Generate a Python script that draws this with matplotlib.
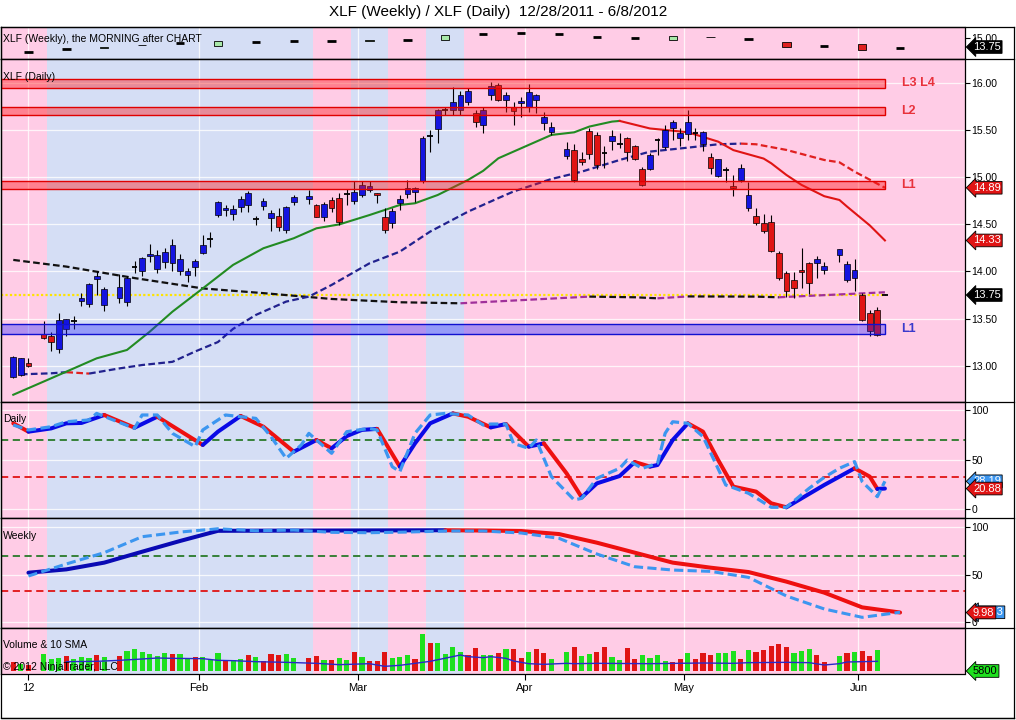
import numpy as np
import matplotlib
matplotlib.use('Agg')
import matplotlib.pyplot as plt
from matplotlib.patches import Rectangle
from matplotlib.lines import Line2D
from matplotlib.transforms import blended_transform_factory

plt.rcParams['font.family'] = ['Liberation Sans', 'DejaVu Sans']

# ---------------------------------------------------------------- data
# bar number = weekday index counted from Wed 2011-12-28 (market holidays leave gaps)
bars = [0, 1, 2, 4, 5, 6, 7, 8, 9, 10, 11, 12, 14, 15, 16, 17, 18, 19, 20, 21, 22, 23, 24, 25, 26,
        27, 28, 29, 30, 31, 32, 33, 34, 35, 36, 37, 39, 40, 41, 42, 43, 44, 45, 46, 47, 48, 49, 50,
        51, 52, 53, 54, 55, 56, 57, 58, 59, 60, 61, 62, 63, 64, 65, 66, 67, 68, 69, 70, 71, 73, 74,
        75, 76, 77, 78, 79, 80, 81, 82, 83, 84, 85, 86, 87, 88, 89, 90, 91, 92, 93, 94, 95, 96, 97,
        98, 99, 100, 101, 102, 103, 104, 105, 106, 107, 109, 110, 111, 112, 113, 114, 115]
opens = [12.88, 12.90, 13.03, 13.34, 13.31, 13.18, 13.39, 13.47, 13.69, 13.65, 13.92, 13.64, 13.72,
         13.68, 14.05, 14.00, 14.16, 14.03, 14.10, 14.09, 14.01, 13.96, 14.05, 14.20, 14.35, 14.60,
         14.65, 14.61, 14.69, 14.71, 14.56, 14.70, 14.57, 14.59, 14.44, 14.74, 14.77, 14.71, 14.58,
         14.76, 14.78, 14.82, 14.75, 14.81, 14.87, 14.83, 14.58, 14.51, 14.73, 14.82, 14.85, 14.96,
         15.44, 15.51, 15.72, 15.72, 15.72, 15.80, 15.68, 15.56, 15.88, 15.98, 15.82, 15.75, 15.79,
         15.75, 15.82, 15.58, 15.48, 15.23, 15.29, 15.20, 15.49, 15.45, 15.26, 15.39, 15.35, 15.42,
         15.33, 15.09, 15.09, 15.40, 15.32, 15.52, 15.42, 15.46, 15.47, 15.35, 15.22, 15.01, 15.08,
         14.91, 14.97, 14.67, 14.59, 14.51, 14.53, 14.20, 13.98, 13.91, 14.02, 14.09, 14.09, 14.02,
         14.17, 13.91, 13.93, 13.75, 13.56, 13.59, 13.75]
highs = [13.10, 13.08, 13.08, 13.47, 13.36, 13.56, 13.50, 13.53, 13.77, 13.88, 14.00, 13.83, 13.97,
         13.95, 14.11, 14.15, 14.29, 14.23, 14.25, 14.34, 14.19, 14.04, 14.13, 14.39, 14.42, 14.75,
         14.71, 14.71, 14.80, 14.86, 14.59, 14.78, 14.65, 14.67, 14.70, 14.81, 14.87, 14.72, 14.74,
         14.79, 14.83, 14.88, 14.96, 14.96, 14.96, 14.83, 14.67, 14.67, 14.81, 14.97, 14.90, 15.44,
         15.50, 15.73, 15.75, 15.96, 15.92, 15.95, 15.72, 15.75, 16.01, 16.00, 15.91, 15.80, 15.85,
         15.99, 15.89, 15.69, 15.59, 15.38, 15.36, 15.27, 15.52, 15.48, 15.33, 15.50, 15.47, 15.43,
         15.34, 15.11, 15.26, 15.42, 15.56, 15.61, 15.52, 15.72, 15.52, 15.49, 15.26, 15.20, 15.11,
         15.03, 15.14, 14.95, 14.67, 14.61, 14.60, 14.22, 14.00, 13.99, 14.25, 14.10, 14.16, 14.10,
         14.24, 14.11, 14.13, 13.77, 13.59, 13.62, 13.76]
lows = [12.87, 12.89, 12.98, 13.28, 13.15, 13.13, 13.31, 13.39, 13.63, 13.62, 13.75, 13.58, 13.66,
        13.63, 13.98, 13.95, 14.10, 13.98, 14.04, 14.00, 13.96, 13.89, 13.95, 14.19, 14.26, 14.58,
        14.59, 14.55, 14.63, 14.63, 14.49, 14.65, 14.43, 14.43, 14.41, 14.71, 14.72, 14.58, 14.54,
        14.63, 14.49, 14.71, 14.72, 14.79, 14.85, 14.73, 14.41, 14.46, 14.65, 14.78, 14.74, 14.94,
        15.27, 15.37, 15.66, 15.66, 15.66, 15.77, 15.54, 15.47, 15.82, 15.81, 15.69, 15.56, 15.64,
        15.69, 15.68, 15.50, 15.45, 15.20, 14.95, 15.13, 15.20, 15.09, 15.10, 15.29, 15.31, 15.17,
        15.19, 14.91, 15.08, 15.24, 15.30, 15.40, 15.33, 15.40, 15.40, 15.28, 15.04, 15.00, 14.95,
        14.80, 14.95, 14.64, 14.49, 14.41, 14.21, 13.91, 13.73, 13.72, 13.82, 13.76, 13.93, 13.97,
        14.10, 13.89, 13.79, 13.47, 13.31, 13.31, 13.75]
closes = [13.09, 13.08, 13.00, 13.29, 13.25, 13.48, 13.49, 13.47, 13.72, 13.87, 13.95, 13.81, 13.83,
          13.93, 14.05, 14.14, 14.19, 14.17, 14.21, 14.28, 14.13, 14.01, 14.11, 14.28, 14.35, 14.74,
          14.68, 14.66, 14.77, 14.83, 14.56, 14.75, 14.62, 14.47, 14.69, 14.79, 14.80, 14.58, 14.72,
          14.67, 14.53, 14.82, 14.84, 14.92, 14.91, 14.81, 14.44, 14.64, 14.77, 14.89, 14.89, 15.42,
          15.44, 15.72, 15.72, 15.80, 15.88, 15.92, 15.59, 15.72, 15.97, 15.82, 15.88, 15.71, 15.81,
          15.91, 15.88, 15.64, 15.54, 15.30, 14.97, 15.16, 15.25, 15.13, 15.26, 15.44, 15.35, 15.27,
          15.20, 14.92, 15.24, 15.40, 15.50, 15.59, 15.47, 15.59, 15.47, 15.48, 15.10, 15.20, 15.08,
          14.89, 15.10, 14.81, 14.51, 14.43, 14.22, 13.93, 13.79, 13.82, 13.99, 13.88, 14.13, 14.06,
          14.24, 14.08, 14.02, 13.48, 13.37, 13.33, 13.75]
# volume in millions of shares, 'G' = up bar, 'R' = down bar
volume = [27, 22, 17, 51, 35, 40, 45, 35, 42, 40, 48, 42, 45, 60, 66, 57, 51, 45, 54, 51, 51, 38, 42,
          42, 33, 54, 33, 33, 35, 48, 42, 30, 51, 48, 51, 39, 39, 45, 33, 33, 39, 33, 57, 42, 30, 30,
          57, 39, 42, 48, 36, 111, 84, 84, 51, 72, 57, 48, 69, 48, 48, 54, 66, 66, 39, 57, 66, 54, 36,
          57, 72, 45, 51, 57, 72, 42, 33, 69, 36, 48, 39, 48, 30, 27, 36, 54, 36, 54, 48, 54, 54, 60,
          36, 63, 57, 63, 75, 81, 72, 54, 60, 66, 48, 27, 45, 54, 57, 60, 45, 63, 0.0058]
vol_dir = ("RGRGGGRGGGRGRGGGGGGRGGRGGGRGGRGRRRGGRRGRGGRGRRRGGGRGRGGGGRRGGRGRRGRRG"
           "GRGGRRGGRRGGGGRRGRRRGGGRGRRRRRGGGRRGRGRRGG")

# 10 SMA of volume
vsma_bar = [7, 11, 14, 17, 19, 21, 25, 27, 29, 32, 36, 40, 43, 47, 49, 51, 53, 55, 59, 60, 62, 63,
            65, 66, 68, 70, 73, 74, 77, 84, 91, 95, 97, 102, 105, 107, 109, 110, 114]
vsma_val = [28, 29, 32, 36, 39, 38, 37, 32, 31, 28, 26, 23, 19, 22, 14, 17, 23, 29, 48, 43, 40, 43,
            38, 30, 22, 20, 23, 22, 23, 22, 24, 23, 25, 26, 25, 18, 22, 27, 29]

# moving averages on the daily price chart
ma_fast_bar = [0, 5, 11, 15, 18, 21, 25, 29, 33, 37, 40, 43, 47, 51, 53, 56, 60, 62, 64, 66, 71, 74,
               76, 79, 80, 84, 89, 93, 95, 99, 100, 102, 104, 107, 109, 110, 113, 115]
ma_fast_val = [12.69, 12.865, 13.077, 13.166, 13.36, 13.573, 13.82, 14.07, 14.247, 14.353, 14.459,
               14.50, 14.60, 14.707, 14.725, 14.813, 14.973, 15.07, 15.203, 15.274, 15.451, 15.479,
               15.54, 15.593, 15.60, 15.52, 15.48, 15.38, 15.29, 15.20, 15.15, 15.026, 14.92, 14.80,
               14.76, 14.69, 14.49, 14.33]
ma_mid_bar = [1, 5, 7, 10, 14, 17, 21, 24, 27, 29, 32, 36, 39, 42, 47, 51, 55, 60, 64, 66, 71, 75, 80,
              84, 89, 93, 96, 98, 102, 107, 109, 111, 115]
ma_mid_val = [12.907, 12.918, 12.93, 12.915, 12.97, 13.006, 13.04, 13.15, 13.25, 13.39, 13.538, 13.68,
              13.733, 13.857, 14.087, 14.211, 14.424, 14.636, 14.78, 14.85, 14.983, 15.061, 15.185,
              15.274, 15.316, 15.352, 15.359, 15.352, 15.292, 15.185, 15.16, 15.061, 14.89]
ma_slow_bar = [0, 7, 16, 25, 33, 42, 51, 59, 76, 82, 85, 89, 98, 101, 115]
ma_slow_val = [14.123, 14.052, 13.93, 13.82, 13.77, 13.708, 13.673, 13.662, 13.733, 13.726, 13.715,
               13.735, 13.733, 13.726, 13.779]
last_price = 13.75

# support / resistance zones
zone_names = ['L3 L4', 'L2', 'L1', 'L1']
zone_lo = [15.954, 15.663, 14.874, 13.333]
zone_hi = [16.046, 15.751, 14.962, 13.442]
zone_kind = ['r', 'r', 'r', 'b']

# daily stochastic
dk_bar = [0, 2, 5, 7, 9, 12, 16, 19, 25, 27, 30, 33, 37, 40, 42, 44, 46, 48, 51, 53, 55, 58, 60, 63,
          65, 68, 70, 73, 75, 77, 80, 82, 84, 85, 87, 89, 91, 93, 95, 98, 100, 102, 104, 107, 109, 111,
          113, 114, 115]
dk_val = [86.6, 78.2, 81.5, 86.6, 87.0, 95.0, 82.2, 93.3, 64.8, 78.2, 94.0, 83.2, 58.0, 69.8, 61.4,
          73.8, 80.0, 81.0, 42.9, 66.4, 86.6, 96.6, 93.3, 82.5, 85.9, 63.1, 66.4, 36.2, 12.0, 26.1,
          33.5, 47.6, 43.0, 44.6, 69.8, 86.6, 78.2, 49.6, 22.8, 17.8, 6.0, 2.0, 11.0, 24.5, 32.9, 41.3,
          32.9, 20.5, 20.88]
dd_bar = [0, 2, 5, 7, 10, 11, 16, 17, 19, 21, 24, 25, 28, 32, 34, 36, 38, 39, 42, 44, 47, 48, 50, 51,
          53, 55, 57, 60, 62, 63, 65, 66, 68, 69, 71, 74, 75, 77, 80, 81, 83, 85, 86, 87, 89, 91, 94,
          97, 100, 102, 105, 107, 109, 111, 112, 114, 115]
dd_val = [84.9, 79.9, 83.2, 88.2, 90.0, 96.6, 81.5, 95.0, 95.0, 76.5, 63.1, 79.9, 95.0, 91.6, 73.2,
          51.3, 64.8, 76.5, 56.4, 78.2, 81.5, 79.9, 42.9, 37.9, 76.5, 95.0, 96.6, 95.0, 84.9, 85.9,
          85.9, 66.4, 61.4, 69.8, 32.9, 9.4, 11.0, 31.2, 41.3, 49.6, 41.3, 46.3, 76.5, 88.2, 86.6,
          73.2, 24.5, 16.1, 2.0, 2.0, 21.1, 32.2, 41.3, 48.0, 27.8, 12.7, 28.19]

# weekly values are plotted on the Friday of each week
week_bar = list(range(2, 118, 5))
wk_open = [13.12, 13.44, 13.68, 13.99, 14.33, 13.88, 14.46, 14.52, 14.60, 14.57, 14.69, 14.69,
           15.46, 15.59, 15.50, 15.05, 15.00, 14.73, 15.12, 14.78, 14.46, 13.92, 14.11, 13.58]
wk_close = [13.12, 13.44, 13.74, 14.05, 14.33, 14.60, 14.46, 14.52, 14.60, 14.63, 14.69, 15.36,
            15.46, 15.59, 15.50, 15.05, 15.00, 15.27, 15.06, 14.78, 13.71, 13.92, 13.39, 13.58]
wk_k = [51.9, 55.4, 62.5, 74.0, 85.3, 96.0, 96.1, 96.2, 96.3, 96.4, 96.5, 96.6, 96.3, 95.8, 92.6,
        83.5, 73.0, 62.5, 57.2, 52.6, 42.5, 30.9, 15.4, 9.98]
wk_d = [48.4, 61.1, 73.0, 89.8, 94.7, 98.2, 96.1, 96.8, 94.4, 94.0, 94.7, 95.8, 95.8, 93.7, 88.1,
        71.6, 58.2, 54.7, 53.3, 47.0, 27.4, 13.7, 4.9, 10.23]
stoch_hi, stoch_lo = 70, 33

# background shading (changes each week) and month ticks
shade_edges = [-3, 4.5, 39.5, 44.5, 49.5, 54.5, 59.5, 130]
shade_kind = ['p', 'b', 'p', 'b', 'p', 'b', 'p']
month_pos = [2, 24.5, 45.5, 67.5, 88.5, 111.5]
month_lab = ['12', 'Feb', 'Mar', 'Apr', 'May', 'Jun']

# ---------------------------------------------------------------- style
W, H = 1016, 720
PINK, LBLUE = '#FFCCE6', '#D5DEF5'
CBLUE, CRED = '#1414E0', '#E01414'
XL = (-1.62, 125.5)
FS = 7.5

fig = plt.figure(figsize=(W / 100, H / 100), dpi=100)
fig.patch.set_facecolor('white')


def ax_at(y0, y1, x0=1.0, x1=964.5):
    return fig.add_axes([x0 / W, 1 - y1 / H, (x1 - x0) / W, (y1 - y0) / H])


def base(ax, ylim, yticks=None, fmt='{:.2f}', grid=True):
    ax.set_xlim(*XL)
    ax.set_ylim(*ylim)
    for k, a, b in zip(shade_kind, shade_edges[:-1], shade_edges[1:]):
        ax.axvspan(a, b, color=PINK if k == 'p' else LBLUE, lw=0, zorder=0)
    for m in month_pos:
        ax.axvline(m, color='white', lw=0.9, alpha=0.8, zorder=0.5)
    ax.set_xticks(month_pos)
    ax.tick_params(axis='x', length=0, labelbottom=False)
    ax.yaxis.tick_right()
    if yticks is not None:
        ax.set_yticks(yticks)
        ax.set_yticklabels([fmt.format(v) for v in yticks])
        if grid:
            for v in yticks:
                ax.axhline(v, color='white', lw=0.9, alpha=0.8, zorder=0.5)
    else:
        ax.set_yticks([])
    ax.tick_params(axis='y', direction='out', length=3.5, width=0.8, labelsize=FS, pad=1.5,
                   colors='black')
    for s in ax.spines.values():
        s.set_color('black')
        s.set_linewidth(0.9)


def value_box(ax, y, text, fc, tc='white', dx=0.0088):
    tr = blended_transform_factory(ax.transAxes, ax.transData)
    ax.text(1 + dx, y, text, transform=tr, ha='left', va='center', fontsize=FS + 0.5, color=tc,
            clip_on=False, zorder=20,
            bbox=dict(boxstyle='larrow,pad=0.12', fc=fc, ec='black', lw=0.6))


def colored_line(ax, xs, ys, up_c, dn_c, **kw):
    xs, ys = list(xs), list(ys)
    seg_x, seg_y = [xs[0]], [ys[0]]
    cur = None
    for i in range(1, len(xs)):
        c = up_c if ys[i] >= ys[i - 1] else dn_c
        if cur is None or c == cur:
            seg_x.append(xs[i]); seg_y.append(ys[i]); cur = c
        else:
            ax.plot(seg_x, seg_y, color=cur, **kw)
            seg_x, seg_y = [xs[i - 1], xs[i]], [ys[i - 1], ys[i]]
            cur = c
    ax.plot(seg_x, seg_y, color=cur, **kw)


# ---------------------------------------------------------------- weekly strip
ax_w = ax_at(27.3, 59.3)
base(ax_w, (12.10, 16.40), [15.0], grid=False)
for x, o, c in zip(week_bar, wk_open, wk_close):
    if abs(c - o) < 0.005:
        ax_w.hlines(o, x - 0.55, x + 0.55, color='black', lw=2.0, zorder=3)
    else:
        fc = '#A8E8A8' if c > o else '#E02020'
        ax_w.add_patch(Rectangle((x - 0.55, min(o, c)), 1.1, abs(c - o), fc=fc, ec='black',
                                 lw=0.6, zorder=3))
value_box(ax_w, last_price, f'{last_price:.2f}', 'black')

# ---------------------------------------------------------------- daily price
ax_p = ax_at(59.3, 402)
base(ax_p, (12.613, 16.255), [13.0, 13.5, 14.0, 14.5, 15.0, 15.5, 16.0])
last_bar = bars[-1]
ax_p.plot([XL[0], last_bar], [last_price, last_price], color='#FFE400', lw=1.6, ls=(0, (1, 1)),
          zorder=1.5)
colored_line(ax_p, ma_slow_bar, ma_slow_val, '#A0309A', '#111111', lw=1.6, ls=(0, (3, 1.5)),
             zorder=2)
colored_line(ax_p, ma_mid_bar, ma_mid_val, '#22228E', '#E02020', lw=1.6, ls=(0, (3, 1.5)), zorder=2)
colored_line(ax_p, ma_fast_bar, ma_fast_val, '#228B22', '#E01414', lw=1.5, zorder=2)

bw = 0.76
for x, o, h, l, c in zip(bars, opens, highs, lows, closes):
    ax_p.vlines(x, l, h, color='black', lw=0.8, zorder=3)
    if abs(c - o) < 0.005:
        ax_p.hlines(c, x - bw / 2, x + bw / 2, color='black', lw=1.3, zorder=3.2)
    else:
        ax_p.add_patch(Rectangle((x - bw / 2, min(o, c)), bw, abs(c - o),
                                 fc=CBLUE if c > o else CRED, ec='black', lw=0.5, zorder=3.1))

for name, lo, hi, k in zip(zone_names, zone_lo, zone_hi, zone_kind):
    col = '#FF1A1A' if k == 'r' else '#2020FF'
    ax_p.add_patch(Rectangle((XL[0], lo), last_bar - XL[0], hi - lo, fc=col,
                             alpha=0.42 if k == 'r' else 0.35, lw=0, zorder=4))
    ax_p.add_patch(Rectangle((XL[0], lo), last_bar - XL[0], hi - lo, fill=False,
                             ec='#E00000' if k == 'r' else '#1010D0', lw=1.0, zorder=4.1))
    ax_p.text(last_bar + 2.2, (lo + hi) / 2, name, fontsize=9, fontweight='bold',
              color='#E8323C' if k == 'r' else '#3A3ACC', ha='left', va='center', zorder=5)

value_box(ax_p, ma_mid_val[-1], f'{ma_mid_val[-1]:.2f}', '#E01414')
value_box(ax_p, ma_fast_val[-1], f'{ma_fast_val[-1]:.2f}', '#E01414')
value_box(ax_p, last_price, f'{last_price:.2f}', 'black')

# ---------------------------------------------------------------- daily stochastic
ax_d = ax_at(402, 518)
base(ax_d, (-8.8, 108.1), [0, 50, 100], fmt='{:d}')
ax_d.axhline(stoch_hi, color='#2A7A2A', lw=1.3, ls=(0, (4, 2.5)), zorder=1)
ax_d.axhline(stoch_lo, color='#E01414', lw=1.3, ls=(0, (4, 2.5)), zorder=1)
colored_line(ax_d, dk_bar, dk_val, '#0A0AE6', '#EE1010', lw=2.9, solid_capstyle='round',
             solid_joinstyle='round', zorder=2)
ax_d.plot(dd_bar, dd_val, color='#3C96F0', lw=2.3, ls=(0, (3, 1.4)), zorder=2.2)
value_box(ax_d, dd_val[-1], f'{dd_val[-1]:.2f}', '#3C96F0')
value_box(ax_d, dk_val[-1], f'{dk_val[-1]:.2f}', '#E01414')

# ---------------------------------------------------------------- weekly stochastic
ax_k = ax_at(518, 627.5)
base(ax_k, (-5.8, 109.5), [0, 50, 100], fmt='{:d}')
ax_k.axhline(stoch_hi, color='#2A7A2A', lw=1.3, ls=(0, (4, 2.5)), zorder=1)
ax_k.axhline(stoch_lo, color='#E01414', lw=1.3, ls=(0, (4, 2.5)), zorder=1)
colored_line(ax_k, week_bar, wk_k, '#0A0AB4', '#EE1010', lw=2.9, solid_capstyle='round', zorder=2)
ax_k.plot(week_bar, wk_d, color='#3C96F0', lw=2.2, ls=(0, (3, 1.4)), zorder=2.2)
value_box(ax_k, wk_d[-1], f'{wk_d[-1]:.2f}', '#3C96F0', dx=0.0115)
value_box(ax_k, wk_k[-1], f'{wk_k[-1]:.2f}', '#E01414')

# ---------------------------------------------------------------- volume
ax_v = ax_at(627.5, 673.7)
base(ax_v, (-8.1, 130.5), None)
vb = 0.68
for x, v, d in zip(bars, volume, vol_dir):
    ax_v.add_patch(Rectangle((x - vb / 2, 0), vb, v, fc='#1EE01E' if d == 'G' else '#E01414',
                             lw=0, zorder=2))
ax_v.plot(vsma_bar, vsma_val, color='#2828C8', lw=1.0, zorder=3)
ax_v.set_xticks(month_pos)
ax_v.set_xticklabels(month_lab)
ax_v.tick_params(axis='x', length=4.5, width=0.8, direction='out', labelbottom=True,
                 labelsize=FS + 0.5, pad=2)
value_box(ax_v, volume[-1], f'{int(round(volume[-1] * 1e6))}', '#1EE01E', tc='black')

# ---------------------------------------------------------------- frame & texts
def fline(xs, ys):
    fig.add_artist(Line2D([x / W for x in xs], [1 - y / H for y in ys], color='black', lw=0.9))


for yy in (27.3, 59.3, 402, 518, 627.5):
    fline([1, 1014], [yy, yy])
fline([1014, 1014], [27.3, 718])
fline([1, 1, 1014], [27.3, 718, 718])
fline([1, 1014], [718, 718])

fig.text(0.49, 1 - 12 / H, 'XLF (Weekly) / XLF (Daily)  12/28/2011 - 6/8/2012', ha='center',
         va='center', fontsize=11)
for txt, yy in [('XLF (Weekly), the MORNING after CHART', 39), ('XLF (Daily)', 77),
                ('Daily', 419), ('Weekly', 536), ('Volume & 10 SMA', 645),
                ('\u00a9 2012 NinjaTrader, LLC', 667)]:
    fig.text(3 / W, 1 - yy / H, txt, ha='left', va='center', fontsize=FS, zorder=30)

fig.savefig('out.png', dpi=100)
